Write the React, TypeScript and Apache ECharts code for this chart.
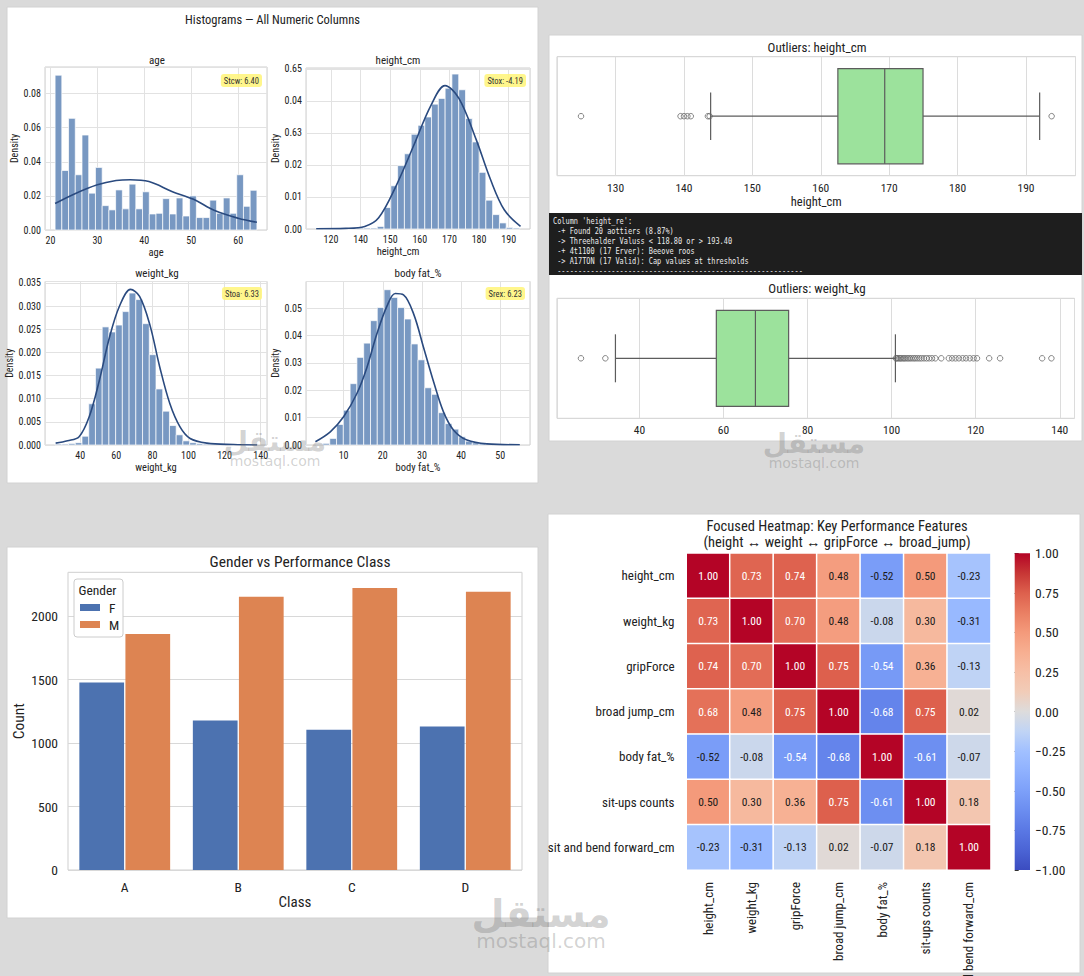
import React, { useEffect, useRef } from "react";
import * as echarts from "echarts";

const FONT = "'Liberation Sans Narrow', 'Arial Narrow', 'Roboto Condensed', 'Liberation Sans', Arial, sans-serif";
const MONO = "'DejaVu Sans Mono', 'Liberation Mono', monospace";
const INK = "#222222";
const HIST_FILL = "#7898c2";
const KDE_COLOR = "#2a4a7f";

// ---------- Histograms (30 equal-width bins between each column's min and max) ----------
const ageBinStart = 21;
const ageBinWidth = 43 / 30;
const ageDensity = [
  0.0908, 0.0349, 0.0655, 0.0324, 0.0557, 0.0216, 0.0367, 0.0143, 0.0118, 0.0235,
  0.0124, 0.0269, 0.0124, 0.0224, 0.0094, 0.0098, 0.0184, 0.0094, 0.0188, 0.0082,
  0.02, 0.0073, 0.0073, 0.0175, 0.0098, 0.0188, 0.0098, 0.0324, 0.0139, 0.0233,
];
const ageKde = [
  [21, 0.0155], [25, 0.021], [30, 0.0265], [34, 0.029], [37, 0.0295], [41, 0.0284],
  [46, 0.0225], [50.5, 0.018], [55, 0.0114], [60, 0.0069], [64, 0.0045],
];

const heightBinStart = 125;
const heightBinWidth = 68.75 / 30;
const heightDensity = [
  0.0003, 0, 0, 0, 0, 0, 0.0003, 0.0003, 0.0003, 0.0008,
  0.0067, 0.0135, 0.0198, 0.0235, 0.0296, 0.0324, 0.035, 0.039, 0.0408, 0.044,
  0.0484, 0.0435, 0.0345, 0.0272, 0.0177, 0.009, 0.0045, 0.0019, 0.0005, 0.0003,
];
const heightKde = [
  [125, 0.0001], [135, 0.0002], [141.4, 0.0008], [146.1, 0.0035], [152, 0.0135],
  [157.9, 0.026], [163.8, 0.0387], [168.5, 0.0448], [173.2, 0.0408], [179, 0.028],
  [183.8, 0.0156], [188.5, 0.006], [194, 0.0008],
];
const heightTickValues = [130, 140, 150, 160, 170, 180, 190];
const heightTickText = ["120", "140", "150", "160", "170", "180", "190"];
const heightDensityTicks = ["0.00", "0.01", "0.02", "0.63", "0.04", "0.65"];

const weightBinStart = 26.1;
const weightBinWidth = (137.9 - 26.1) / 30;
const weightDensity = [
  0.0002, 0.0002, 0.0003, 0.0005, 0.0019, 0.0089, 0.0166, 0.0255, 0.0244, 0.0259,
  0.0288, 0.0328, 0.0314, 0.0262, 0.0195, 0.0121, 0.0073, 0.0042, 0.0022, 0.0009,
  0.0005, 0.0003, 0.0002, 0.0001, 0.0001, 0.0001, 0.0001, 0, 0, 0.0001,
];
const weightKde = [
  [26.4, 0.0004], [33, 0.0009], [39.4, 0.0018], [45, 0.0061], [50.6, 0.0139],
  [56.2, 0.0232], [61.8, 0.03], [67.9, 0.0336], [72.9, 0.0321], [78.5, 0.0261],
  [84.1, 0.0168], [89.7, 0.0089], [95.3, 0.0039], [100.9, 0.0014], [110.2, 0.0004],
  [125, 0.0001], [138, 0],
];

const fatBinStart = 3;
const fatBinWidth = 52 / 30;
const fatDensity = [
  0.0002, 0.0006, 0.0024, 0.0075, 0.0127, 0.0224, 0.032, 0.0372, 0.0454, 0.0502,
  0.0567, 0.0539, 0.0502, 0.046, 0.0369, 0.0311, 0.0209, 0.0185, 0.0118, 0.0078,
  0.0058, 0.003, 0.0014, 0.0008, 0.0005, 0.0003, 0.0002, 0.0001, 0.0001, 0.0001,
];
const fatKde = [
  [2.8, 0.0012], [6.6, 0.0048], [10, 0.0103], [13.4, 0.0188], [16, 0.0285],
  [18.5, 0.0406], [21.1, 0.0508], [23.2, 0.0553], [25.3, 0.0548], [27.9, 0.0478],
  [30.4, 0.0357], [33, 0.023], [35.5, 0.0121], [38.1, 0.0054], [41.5, 0.0018],
  [46.6, 0.0004], [55, 0.0001],
];

// ---------- Outlier box plots ----------
const heightBox = [143.9, 162.5, 169.35, 174.95, 192.0]; // lower whisker, Q1, median, Q3, upper whisker
const heightOutliers = [124.95, 139.5, 140.0, 140.5, 141.0, 143.5, 143.75, 193.75];
const weightBox = [34.3, 58.3, 67.6, 75.5, 100.9];
const weightOutliers = [
  26.1, 31.9, 101.0, 101.2, 101.5, 101.8, 102.1, 102.4, 102.8, 103.1, 103.5, 103.9,
  104.3, 104.7, 105.2, 105.6, 106.1, 106.6, 107.1, 107.7, 108.3, 108.9, 109.6, 110.4,
  111.8, 113.6, 114.4, 115.2, 116.0, 116.9, 117.7, 118.6, 119.5, 120.3, 123.2, 125.8,
  135.8, 138.0,
];
const consoleLines = [
  "Column 'height_re':",
  " -+ Found 20 aottiers (8.87%)",
  " -> Threehalder Valuss < 118.80 or > 193.40",
  " -+ 4t1100 (17 Erver): Beeove roos",
  " -> A17TON (17 Valid): Cap values at thresholds",
  " -----------------------------------------------------------",
];

// ---------- Gender vs class counts ----------
const classes = ["A", "B", "C", "D"];
const countF = [1477, 1177, 1104, 1130];
const countM = [1859, 2153, 2222, 2192];

// ---------- Correlation heatmap ----------
const features = [
  "height_cm", "weight_kg", "gripForce", "broad jump_cm",
  "body fat_%", "sit-ups counts", "sit and bend forward_cm",
];
const corr = [
  [1.0, 0.73, 0.74, 0.48, -0.52, 0.5, -0.23],
  [0.73, 1.0, 0.7, 0.48, -0.08, 0.3, -0.31],
  [0.74, 0.7, 1.0, 0.75, -0.54, 0.36, -0.13],
  [0.68, 0.48, 0.75, 1.0, -0.68, 0.75, 0.02],
  [-0.52, -0.08, -0.54, -0.68, 1.0, -0.61, -0.07],
  [0.5, 0.3, 0.36, 0.75, -0.61, 1.0, 0.18],
  [-0.23, -0.31, -0.13, 0.02, -0.07, 0.18, 1.0],
];
const colorbarTicks = [-1, -0.75, -0.5, -0.25, 0, 0.25, 0.5, 0.75, 1];

const COOLWARM = [
  "#3b4cc0", "#4b64d5", "#5a78e4", "#6b8df0", "#7da0f9", "#8fb1fe", "#a1c0ff", "#c0d4f5",
  "#dddcdc", "#f1ccb8", "#f6bfa6", "#f7af91", "#f49a7b", "#ea7f63", "#dd604d", "#c73635",
  "#b40426",
];

const bins = (start: number, width: number, dens: number[]) =>
  dens.map((d, i) => [start + i * width, start + (i + 1) * width, d]);

const stepFmt = (step: number, digits: number) => (v: number) => {
  const k = v / step;
  return Math.abs(k - Math.round(k)) < 1e-6 ? (Math.round(k) * step).toFixed(digits) : "";
};

const histRender = (_params: any, api: any) => {
  const a = api.coord([api.value(0), api.value(2)]);
  const b = api.coord([api.value(1), 0]);
  return {
    type: "rect",
    shape: { x: a[0], y: a[1], width: b[0] - a[0], height: b[1] - a[1] },
    style: { fill: HIST_FILL, stroke: "#ffffff", lineWidth: 0.7 },
  };
};

const boxRender = (_params: any, api: any) => {
  const v = [1, 2, 3, 4, 5].map((i) => api.value(i));
  const xs = v.map((x) => api.coord([x, 0.5])[0]);
  const y = (t: number) => api.coord([v[0], t])[1];
  const stroke = "#5c5c5c";
  const line = (x1: number, y1: number, x2: number, y2: number) => ({
    type: "line",
    shape: { x1, y1, x2, y2 },
    style: { stroke, lineWidth: 1.2 },
  });
  return {
    type: "group",
    children: [
      line(xs[0], y(0.5), xs[1], y(0.5)),
      line(xs[3], y(0.5), xs[4], y(0.5)),
      line(xs[0], y(0.7), xs[0], y(0.3)),
      line(xs[4], y(0.7), xs[4], y(0.3)),
      {
        type: "rect",
        shape: { x: xs[1], y: y(0.9), width: xs[3] - xs[1], height: y(0.1) - y(0.9) },
        style: { fill: "#9ce29c", stroke, lineWidth: 1.2 },
      },
      line(xs[2], y(0.9), xs[2], y(0.1)),
    ],
  };
};

const label = (size: number) => ({ fontSize: size, color: INK, fontFamily: FONT });

function histX(gridIndex: number, min: number, max: number, splitNumber: number, name: string, fmt: any, namePad?: number[]) {
  return {
    type: "value", gridIndex, min, max, splitNumber,
    axisLine: { show: false }, axisTick: { show: false },
    axisLabel: { ...label(10), margin: 5, formatter: fmt },
    splitLine: { show: true, lineStyle: { color: "#e2e2e2" } },
    name, nameLocation: "middle", nameGap: 17,
    nameTextStyle: { ...label(10.5), padding: namePad },
  };
}

function histY(gridIndex: number, max: number, interval: number, fmt: any) {
  return {
    type: "value", gridIndex, min: 0, max, interval,
    axisLine: { show: false }, axisTick: { show: false },
    axisLabel: { ...label(10), margin: 4, formatter: fmt },
    splitLine: { show: true, lineStyle: { color: "#e2e2e2" } },
    name: "Density", nameLocation: "middle", nameGap: 22,
    nameTextStyle: label(10),
  };
}

function text(t: string, x: number, y: number, size: number, extra: any = {}) {
  return {
    type: "text", x, y, z: 10,
    style: { text: t, fontSize: size, fontFamily: FONT, fill: INK, align: "center", verticalAlign: "middle", ...extra },
  };
}

function statBox(t: string, x: number, y: number) {
  return text(t, x, y, 8.5, {
    align: "right", fill: "#333",
    backgroundColor: "rgba(255,244,120,0.85)", padding: [2, 3], borderRadius: 3,
  });
}

function panel(x: number, y: number, w: number, h: number) {
  return { type: "rect", z: -100, shape: { x, y, width: w, height: h }, style: { fill: "#ffffff", stroke: "#d2d2d2", lineWidth: 1 } };
}

function watermark(cx: number, y: number, big: number, small: number) {
  const fill = "rgba(105,105,105,0.30)";
  return [
    { type: "text", x: cx, y, z: 200, style: { text: "مستقل", fontSize: big, fontWeight: "bold", fontFamily: "'DejaVu Sans', 'Noto Sans', sans-serif", fill, align: "center", verticalAlign: "middle" } },
    { type: "text", x: cx, y: y + big * 0.72, z: 200, style: { text: "mostaql.com", fontSize: small, fontFamily: "'DejaVu Sans', sans-serif", fill, align: "center", verticalAlign: "middle" } },
  ];
}

function buildOption() {
  const gridBase = { show: true, borderColor: "#cfcfcf", borderWidth: 1, backgroundColor: "transparent", containLabel: false, outerBoundsMode: "none" };

  const heightXFmt = (v: number) => {
    const i = heightTickValues.findIndex((t) => Math.abs(t - v) < 1e-6);
    return i >= 0 ? heightTickText[i] : "";
  };
  const heightYFmt = (v: number) => {
    const k = v / 0.01;
    return Math.abs(k - Math.round(k)) < 1e-6 ? heightDensityTicks[Math.round(k)] ?? "" : "";
  };
  const cbFmt = (v: number) => {
    const i = colorbarTicks.findIndex((t) => Math.abs(t - v) < 1e-6);
    if (i < 0) return "";
    const t = colorbarTicks[i];
    return (t < 0 ? "\u2212" : "") + Math.abs(t).toFixed(2);
  };

  const heatData: any[] = [];
  corr.forEach((row, r) =>
    row.forEach((v, c) =>
      heatData.push({ value: [c, r, v], label: { color: Math.abs(v) >= 0.53 ? "#ffffff" : "#1a1a1a" } })
    )
  );

  const series: any[] = [];
  const histSeries = (axis: number, start: number, width: number, dens: number[], kde: number[][]) => {
    series.push({ type: "custom", xAxisIndex: axis, yAxisIndex: axis, renderItem: histRender, encode: { x: [0, 1], y: 2 }, data: bins(start, width, dens), silent: true, z: 2 });
    series.push({ type: "line", xAxisIndex: axis, yAxisIndex: axis, data: kde, smooth: 0.35, showSymbol: false, symbol: "none", lineStyle: { color: KDE_COLOR, width: 1.6 }, silent: true, z: 3 });
  };
  histSeries(0, ageBinStart, ageBinWidth, ageDensity, ageKde);
  histSeries(1, heightBinStart, heightBinWidth, heightDensity, heightKde);
  histSeries(2, weightBinStart, weightBinWidth, weightDensity, weightKde);
  histSeries(3, fatBinStart, fatBinWidth, fatDensity, fatKde);

  const boxSeries = (axis: number, box: number[], outliers: number[]) => {
    series.push({ type: "custom", xAxisIndex: axis, yAxisIndex: axis, renderItem: boxRender, encode: { y: 0, x: [1, 2, 3, 4, 5] }, data: [[0.5, ...box]], silent: true, z: 3 });
    series.push({
      type: "scatter", xAxisIndex: axis, yAxisIndex: axis, symbol: "circle", symbolSize: 5.5, silent: true, z: 4,
      itemStyle: { color: "rgba(0,0,0,0)", borderColor: "#666666", borderWidth: 1 },
      data: outliers.map((o) => [o, 0.5]),
    });
  };
  boxSeries(4, heightBox, heightOutliers);
  boxSeries(5, weightBox, weightOutliers);

  series.push({ type: "bar", name: "F", xAxisIndex: 6, yAxisIndex: 6, data: countF, itemStyle: { color: "#4c72b0" }, barGap: "3%", barCategoryGap: "20%", silent: true });
  series.push({ type: "bar", name: "M", xAxisIndex: 6, yAxisIndex: 6, data: countM, itemStyle: { color: "#dd8452" }, barGap: "3%", barCategoryGap: "20%", silent: true });

  const heatIndex = series.length;
  series.push({
    type: "heatmap", xAxisIndex: 7, yAxisIndex: 7, data: heatData, silent: true,
    itemStyle: { borderColor: "#ffffff", borderWidth: 1.5 },
    label: { show: true, fontSize: 11.5, fontFamily: FONT, formatter: (p: any) => p.value[2].toFixed(2) },
    emphasis: { disabled: true },
  });
  series.push({
    type: "custom", xAxisIndex: 8, yAxisIndex: 8, data: [[0.5, 0]], silent: true,
    renderItem: (params: any) => {
      const cs = params.coordSys;
      return {
        type: "rect",
        shape: { x: cs.x, y: cs.y, width: cs.width, height: cs.height },
        style: {
          fill: new echarts.graphic.LinearGradient(0, 1, 0, 0,
            COOLWARM.map((c, i) => ({ offset: i / (COOLWARM.length - 1), color: c }))),
        },
      };
    },
  });

  const boxX = (gridIndex: number, min: number, max: number, splitNumber: number, step: number, name?: string) => ({
    type: "value", gridIndex, min, max, splitNumber,
    axisLine: { show: false }, axisTick: { show: false },
    axisLabel: { ...label(11.5), margin: 6, formatter: stepFmt(step, 0) },
    splitLine: { show: true, lineStyle: { color: "#dcdcdc" } },
    name, nameLocation: "middle", nameGap: 19, nameTextStyle: label(12.5),
  });
  const hiddenY = (gridIndex: number) => ({ type: "value", gridIndex, min: 0, max: 1, show: false });

  const xAxis = [
    histX(0, 18.85, 66.15, 5, "age", stepFmt(10, 0)),
    histX(1, 121.56, 197.2, 7, "height_cm", heightXFmt, [0, 40, 0, 0]),
    histX(2, 20.5, 143.5, 6, "weight_kg", stepFmt(20, 0)),
    histX(3, 0.4, 57.6, 5, "body fat_%", stepFmt(10, 0)),
    boxX(4, 121.44, 197.24, 7, 10, "height_cm"),
    boxX(5, 20.4, 143.5, 6, 20),
    {
      type: "category", gridIndex: 6, data: classes,
      axisLine: { show: false }, axisTick: { show: false },
      axisLabel: { ...label(13.5), margin: 10 },
      name: "Class", nameLocation: "middle", nameGap: 24, nameTextStyle: label(15),
    },
    {
      type: "category", gridIndex: 7, data: features, position: "bottom",
      axisLine: { show: false }, axisTick: { show: false }, splitLine: { show: false },
      axisLabel: { ...label(13), rotate: 90, interval: 0, margin: 12 },
    },
    { type: "value", gridIndex: 8, min: 0, max: 1, show: false },
  ];

  const yAxis = [
    histY(0, 0.0956, 0.02, stepFmt(0.02, 2)),
    histY(1, 0.0503, 0.01, heightYFmt),
    histY(2, 0.0353, 0.005, stepFmt(0.005, 3)),
    histY(3, 0.0597, 0.01, stepFmt(0.01, 2)),
    hiddenY(4),
    hiddenY(5),
    {
      type: "value", gridIndex: 6, min: 0, max: 2345, interval: 500,
      axisLine: { show: false }, axisTick: { show: false },
      axisLabel: { ...label(13.5), margin: 10, formatter: stepFmt(500, 0) },
      splitLine: { show: true, lineStyle: { color: "#d8d8d8" } },
      name: "Count", nameLocation: "middle", nameGap: 40, nameTextStyle: label(15.5),
    },
    {
      type: "category", gridIndex: 7, data: features, inverse: true,
      axisLine: { show: false }, axisTick: { show: false }, splitLine: { show: false },
      axisLabel: { ...label(13), interval: 0, margin: 12 },
    },
    {
      type: "value", gridIndex: 8, min: -1, max: 1, interval: 0.25, position: "right",
      axisLine: { show: false }, splitLine: { show: false },
      axisTick: { show: true, length: 4, lineStyle: { color: "#333" } },
      axisLabel: { ...label(13.5), margin: 5, formatter: cbFmt },
    },
  ];

  const consoleText = consoleLines.map((t, i) => ({
    type: "text", x: 0, y: 221 + i * 10, z: 10,
    style: { text: t, fontSize: 9, fontFamily: MONO, fill: "#ececec", align: "left", verticalAlign: "middle" },
  }));

  const graphicElements: any[] = [
    panel(7, 7, 531, 476),
    panel(549, 35, 533, 406),
    panel(7, 547, 531, 371),
    panel(548, 514, 532, 459),
    { type: "rect", z: -50, shape: { x: 549, y: 213, width: 533, height: 62 }, style: { fill: "#1e1e1e" } },
    { type: "group", x: 553, y: 0, scaleX: 0.77, children: consoleText },

    text("Histograms \u2014 All Numeric Columns", 272.5, 19.5, 12.5),
    text("age", 157, 60, 11),
    text("height_cm", 398, 60, 11),
    text("weight_kg", 157, 273.5, 11),
    text("body fat_%", 418, 273.5, 11),
    statBox("Stcw: 6.40", 262, 80.5),
    statBox("Stox: -4.19", 526, 80.5),
    statBox("Stoa\u00b7 6.33", 262, 293.5),
    statBox("Srex: 6.23", 525, 293.5),

    text("Outliers: height_cm", 817, 47.5, 13),
    text("Outliers: weight_kg", 817, 288.5, 13),

    text("Gender vs Performance Class", 300, 561.7, 15.5),
    { type: "rect", z: 5, shape: { x: 74, y: 579, width: 49, height: 58, r: 3 }, style: { fill: "#ffffff", stroke: "#cccccc", lineWidth: 1 } },
    text("Gender", 78.5, 589.5, 13.5, { align: "left" }),

    text("Focused Heatmap: Key Performance Features", 837, 526, 14.5),
    text("(height \u2194 weight \u2194 gripForce \u2194 broad_jump)", 837, 542.3, 14.5),

    ...watermark(275, 441, 28, 14),
    ...watermark(814, 443, 28, 14),
    ...watermark(541, 914, 38, 20),
  ];

  return {
    animation: false,
    backgroundColor: "#dadada",
    textStyle: { fontFamily: FONT },
    grid: [
      { ...gridBase, left: 45, top: 67, width: 222, height: 163 },
      { ...gridBase, left: 306, top: 68, width: 224, height: 161 },
      { ...gridBase, left: 45, top: 281.5, width: 222, height: 163.5 },
      { ...gridBase, left: 306, top: 281.5, width: 224, height: 163.5 },
      { ...gridBase, left: 557, top: 56.7, width: 518.5, height: 119 },
      { ...gridBase, left: 557, top: 298.3, width: 517.5, height: 120 },
      { ...gridBase, left: 68, top: 572.3, width: 454, height: 297.7 },
      { show: false, containLabel: false, outerBoundsMode: "none", left: 686.5, top: 553.3, width: 304.2, height: 316.7 },
      { show: false, containLabel: false, outerBoundsMode: "none", left: 1014.7, top: 553.3, width: 15.3, height: 316.7 },
    ],
    xAxis,
    yAxis,
    legend: {
      data: ["F", "M"], orient: "vertical", left: 80, top: 600.5, z: 6,
      itemWidth: 20, itemHeight: 7, itemGap: 3, icon: "rect", selectedMode: false, padding: 0,
      textStyle: { ...label(13.5), padding: [0, 0, 0, 4] },
    },
    visualMap: {
      type: "continuous", show: false, min: -1, max: 1, dimension: 2,
      seriesIndex: heatIndex, inRange: { color: COOLWARM },
    },
    graphic: { elements: graphicElements },
    series,
  };
}

export default function App() {
  const ref = useRef<HTMLDivElement>(null);
  useEffect(() => {
    if (!ref.current) return;
    const chart = echarts.init(ref.current, undefined, { renderer: "svg" });
    chart.setOption(buildOption() as any);
    return () => chart.dispose();
  }, []);
  return <div ref={ref} style={{ position: "fixed", left: 0, top: 0, width: 1084, height: 976 }} />;
}
